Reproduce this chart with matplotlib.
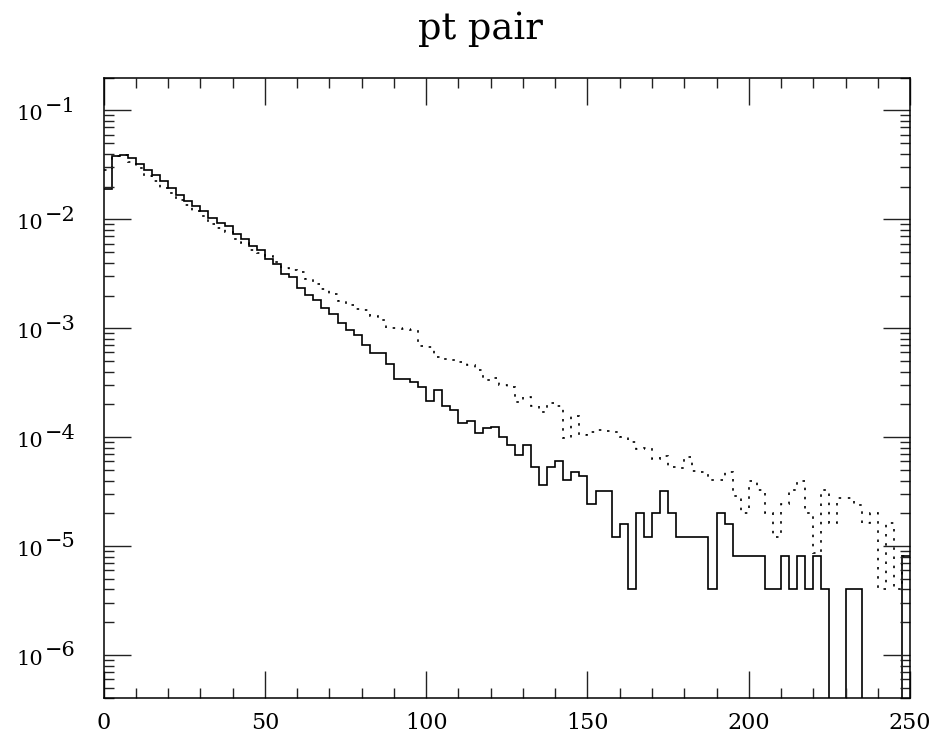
import matplotlib
matplotlib.use('Agg')
import matplotlib.pyplot as plt
from matplotlib.ticker import MultipleLocator, LogLocator, NullFormatter
from matplotlib.transforms import blended_transform_factory
import numpy as np

plt.rcParams.update({'font.family': 'DejaVu Serif',
                     'mathtext.fontset': 'dejavuserif',
                     'font.size': 15})

# pt pair histogram, 100 bins of 2.5 from 0 to 250
edges = np.linspace(0, 250, 101)

solid = [0.0191, 0.0381, 0.0392, 0.0368, 0.0324, 0.0282, 0.0254, 0.0223, 0.0194, 0.0168,
         0.0149, 0.0134, 0.0119, 0.0104, 0.00931, 0.00863, 0.00740, 0.00656, 0.00565, 0.00527,
         0.00432, 0.00392, 0.00318, 0.00296, 0.00236, 0.00204, 0.00181, 0.00155, 0.00134, 0.00112,
         9.59e-4, 8.63e-4, 6.98e-4, 5.94e-4, 5.94e-4, 4.68e-4, 3.40e-4, 3.40e-4, 3.22e-4, 2.92e-4,
         2.14e-4, 2.69e-4, 1.93e-4, 1.76e-4, 1.35e-4, 1.41e-4, 1.09e-4, 1.21e-4, 1.24e-4, 1.01e-4,
         8.45e-5, 6.84e-5, 8.45e-5, 5.27e-5, 3.63e-5, 5.27e-5, 6.03e-5, 4.04e-5, 4.81e-5, 4.40e-5,
         2.41e-5, 3.22e-5, 3.22e-5, 1.20e-5, 1.61e-5, 4.04e-6, 2.0e-5, 1.2e-5, 2.0e-5, 3.22e-5,
         2.0e-5, 1.2e-5, 1.2e-5, 1.2e-5, 1.2e-5, 4.04e-6, 2.0e-5, 1.61e-5, 8.1e-6, 8.1e-6,
         8.1e-6, 8.1e-6, 4.04e-6, 4.04e-6, 8.1e-6, 4.04e-6, 8.1e-6, 4.04e-6, 8.1e-6, 4.04e-6,
         0, 0, 4.04e-6, 4.04e-6, 0, 0, 0, 0, 0, 8.1e-6]

dotted = [0.0282, 0.0380, 0.0389, 0.0339, 0.0295, 0.0251, 0.0224, 0.0195, 0.0174, 0.0151,
          0.0135, 0.0120, 0.0107, 0.00912, 0.00832, 0.00759, 0.00661, 0.00603, 0.00525, 0.00490,
          0.00457, 0.00407, 0.00357, 0.00340, 0.00329, 0.00286, 0.00257, 0.00231, 0.00208, 0.00178,
          0.00163, 0.00151, 0.00146, 0.00129, 0.00120, 0.00101, 0.00101, 9.89e-4, 9.73e-4, 6.89e-4,
          6.75e-4, 5.46e-4, 5.27e-4, 5.08e-4, 4.88e-4, 4.58e-4, 4.12e-4, 3.33e-4, 3.51e-4, 3.00e-4,
          2.88e-4, 2.11e-4, 2.34e-4, 1.95e-4, 1.72e-4, 2.04e-4, 1.92e-4, 9.73e-5, 1.57e-4, 1.04e-4,
          1.11e-4, 1.16e-4, 1.14e-4, 1.11e-4, 1.01e-4, 9.12e-5, 7.80e-5, 7.94e-5, 6.32e-5, 6.65e-5,
          5.35e-5, 5.20e-5, 6.55e-5, 4.94e-5, 4.81e-5, 4.04e-5, 4.04e-5, 4.76e-5, 2.88e-5, 2.03e-5,
          3.98e-5, 3.24e-5, 2.0e-5, 1.22e-5, 2.43e-5, 3.24e-5, 3.98e-5, 2.0e-5, 8.57e-6, 3.24e-5,
          1.62e-5, 2.77e-5, 2.77e-5, 2.38e-5, 1.62e-5, 2.0e-5, 4.07e-6, 1.62e-5, 4.07e-6, 8.1e-6]

title = 'pt pair'
y_exponents = [-6, -5, -4, -3, -2, -1]

fig = plt.figure(figsize=(9.33, 7.33), dpi=100)
ax = fig.add_axes([0.1111, 0.0473, 0.8643, 0.8467])

# empty bins -> push far below the axis so the line drops off the bottom
s = np.array(solid)
d = np.array(dotted)
s = np.where(s > 0, s, 1e-12)
d = np.where(d > 0, d, 1e-12)

ax.stairs(s, edges, baseline=None, color='black', lw=1.2)
ax.stairs(d, edges, baseline=None, color='black', lw=1.2, linestyle=(0, (1.5, 4)))

ax.set_yscale('log')
ax.set_xlim(0, 250)
ax.set_ylim(4e-7, 0.2)

ax.xaxis.set_major_locator(MultipleLocator(50))
ax.xaxis.set_minor_locator(MultipleLocator(10))
ax.yaxis.set_major_locator(LogLocator(base=10, numticks=20))
ax.yaxis.set_minor_locator(LogLocator(base=10, subs=np.arange(2, 10), numticks=20))
ax.yaxis.set_major_formatter(NullFormatter())
ax.yaxis.set_minor_formatter(NullFormatter())

ax.tick_params(which='both', direction='in', top=True, right=True, width=1.0, colors='#222222')
ax.tick_params(which='major', length=19.5)
ax.tick_params(which='minor', length=7)
ax.tick_params(axis='x', which='major', pad=10, labelsize=16, labelcolor='black')
for sp in ax.spines.values():
    sp.set_linewidth(1.1)

# y labels: "10" with a full-size raised exponent, like the original plotter
trans = blended_transform_factory(ax.transAxes, ax.transData)
for e in y_exponents:
    ax.annotate('10', xy=(0, 10.0 ** e), xycoords=trans, xytext=(-43.5, -7.2),
                textcoords='offset points', ha='right', va='baseline', fontsize=15)
    ax.annotate('\u2212%d' % abs(e), xy=(0, 10.0 ** e), xycoords=trans, xytext=(-42.3, -1.0),
                textcoords='offset points', ha='left', va='baseline', fontsize=15)

fig.text(0.5145, 0.947, title, ha='center', va='baseline', fontsize=26.5)

plt.savefig('out.png', dpi=100)
